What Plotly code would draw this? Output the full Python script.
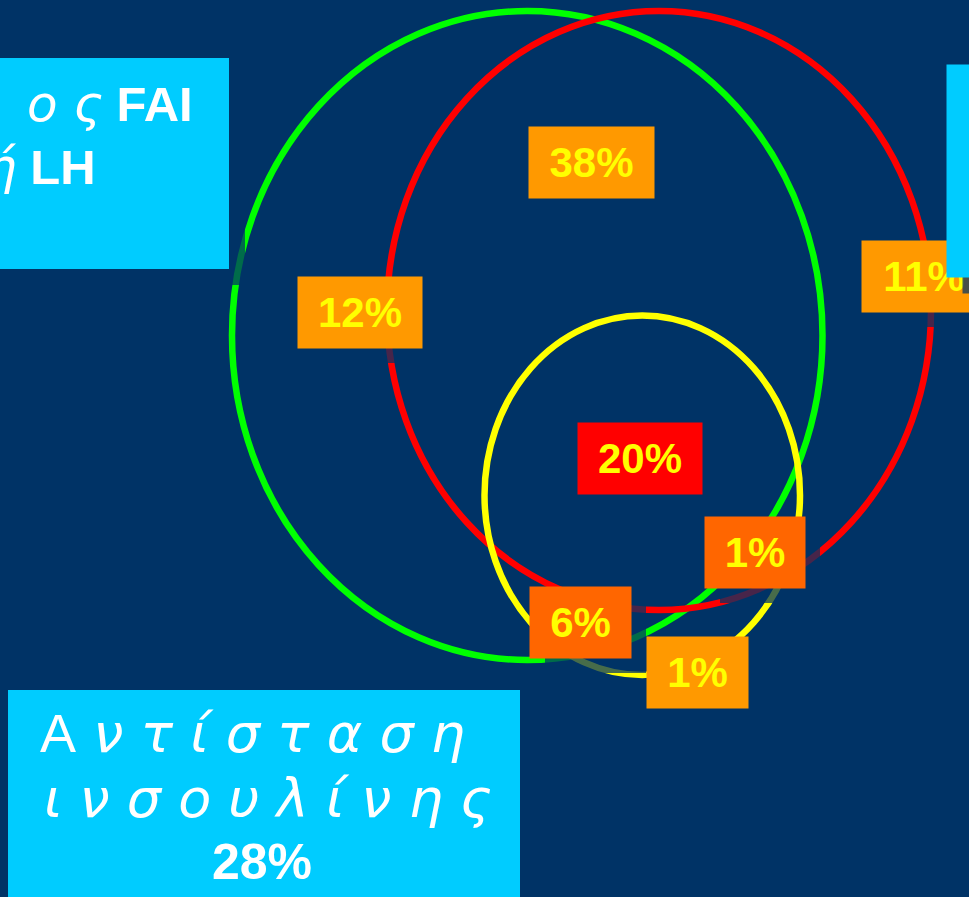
import plotly.graph_objects as go

# ---------------- data ----------------
set_names = ["Υπερανδρογοναιμία (FAI ή LH)", "Ωοθηκική δυσλειτουργία", "Αντίσταση ινσουλίνης"]
label_values = [38, 12, 11, 20, 1, 6, 1]
label_fills = ["#FF9900", "#FF9900", "#FF9900", "#FF0000", "#FF6600", "#FF6600", "#FF9900"]
topleft_line1 = ("ο ς", "FAI")
topleft_line2 = ("ή", "LH")
bottom_line1 = ("Α", "ν τ ί σ τ α σ η")
bottom_line2 = "ι ν σ ο υ λ ί ν η ς"
bottom_value = 28

# ---------------- geometry / style ----------------
W, H = 969, 897
BG = "#003366"
CYAN = "#00CCFF"
SHADOW = "rgba(0,51,102,0.72)"
OFF = 16

circles = [  # x0, x1, y0, y1, colour
    (232, 822.5, 11, 660, "#00FF00"),
    (387, 931, 11, 610, "#FF0000"),
    (484.5, 800, 315.5, 675, "#FFFF00"),
]
label_boxes = [  # x0, y0, w, h
    (528, 126, 125, 71),
    (297, 276, 124, 71),
    (861, 240, 124, 71),
    (577, 422, 124, 71),
    (704, 516, 100, 71),
    (529, 586, 101, 71),
    (646, 636, 101, 71),
]
topleft_box = (0, 58, 229, 269)
bottom_box = (8, 690, 520, 910)
right_box = (946, 64, 60, 212)

FONT = "Liberation Sans, Arial, sans-serif"
GREEK = "DejaVu Sans, sans-serif"

fig = go.Figure(go.Scatter(x=[], y=[], hoverinfo="skip", showlegend=False))

shapes = []
for x0, x1, y0, y1, col in circles:
    shapes.append(dict(type="circle", xref="x", yref="y", x0=x0, x1=x1, y0=y0, y1=y1,
                       line=dict(color=col, width=6.5), layer="above"))

# shadows (tint the circles where boxes cast a shadow)
for x0, y0, w, h in label_boxes:
    shapes.append(dict(type="rect", xref="x", yref="y", x0=x0 + OFF, x1=x0 + w + OFF,
                       y0=y0 + OFF, y1=y0 + h + OFF, fillcolor=SHADOW, line=dict(width=0), layer="above"))
for bx in (topleft_box, bottom_box):
    shapes.append(dict(type="rect", xref="x", yref="y", x0=bx[0] + OFF, x1=bx[2] + OFF,
                       y0=bx[1] + OFF, y1=bx[3] + OFF, fillcolor=SHADOW, line=dict(width=0), layer="above"))
# cyan text boxes
for bx in (topleft_box, bottom_box):
    shapes.append(dict(type="rect", xref="x", yref="y", x0=bx[0], x1=bx[2], y0=bx[1], y1=bx[3],
                       fillcolor=CYAN, line=dict(width=0), layer="above"))

annotations = []
for (x0, y0, w, h), v, fc in zip(label_boxes, label_values, label_fills):
    annotations.append(dict(x=x0, y=y0, xref="x", yref="y", xanchor="left", yanchor="top",
                            text=f"<b>{v}%</b>", showarrow=False, width=w, height=h,
                            bgcolor=fc, borderpad=0, align="center", valign="middle",
                            font=dict(family=FONT, size=42, color="#FFFF00")))

# right cyan box (covers part of the 11% label) and its shadow
rx, ry, rw, rh = right_box
annotations.append(dict(x=rx + OFF, y=ry + OFF, xref="x", yref="y", xanchor="left", yanchor="top",
                        text=" ", showarrow=False, width=rw, height=rh, bgcolor=SHADOW, borderpad=0))
annotations.append(dict(x=rx, y=ry, xref="x", yref="y", xanchor="left", yanchor="top",
                        text=" ", showarrow=False, width=rw, height=rh, bgcolor=CYAN, borderpad=0))

def gspan(s, size):
    return f'<span style="font-family:{GREEK};font-size:{size}px"><i>{s}</i></span>'

annotations.append(dict(x=194, y=104, xref="x", yref="y", xanchor="right", yanchor="middle",
                        text=gspan(topleft_line1[0], 50) + f" <b>{topleft_line1[1]}</b>",
                        showarrow=False, borderpad=0, font=dict(family=FONT, size=49, color="white")))
annotations.append(dict(x=97, y=167, xref="x", yref="y", xanchor="right", yanchor="middle",
                        text=gspan(topleft_line2[0], 50) + f" <b>{topleft_line2[1]}</b>",
                        showarrow=False, borderpad=0, font=dict(family=FONT, size=49, color="white")))

annotations.append(dict(x=252, y=733, xref="x", yref="y", xanchor="center", yanchor="middle",
                        text=f'<span style="font-family:{FONT}">{bottom_line1[0]}</span> <i>{bottom_line1[1]}</i>',
                        showarrow=False, borderpad=0, font=dict(family=GREEK, size=54, color="white")))
annotations.append(dict(x=268, y=798, xref="x", yref="y", xanchor="center", yanchor="middle",
                        text=f"<i>{bottom_line2}</i>",
                        showarrow=False, borderpad=0, font=dict(family=GREEK, size=54, color="white")))
annotations.append(dict(x=262, y=862, xref="x", yref="y", xanchor="center", yanchor="middle",
                        text=f"<b>{bottom_value}%</b>",
                        showarrow=False, borderpad=0, font=dict(family=FONT, size=50, color="white")))

fig.update_layout(
    width=W, height=H, autosize=False,
    margin=dict(l=0, r=0, t=0, b=0, pad=0),
    paper_bgcolor=BG, plot_bgcolor=BG,
    xaxis=dict(range=[0, W], visible=False, fixedrange=True),
    yaxis=dict(range=[H, 0], visible=False, fixedrange=True),
    shapes=shapes, annotations=annotations, showlegend=False,
)
fig.write_html("out.html", config={"displayModeBar": False})
